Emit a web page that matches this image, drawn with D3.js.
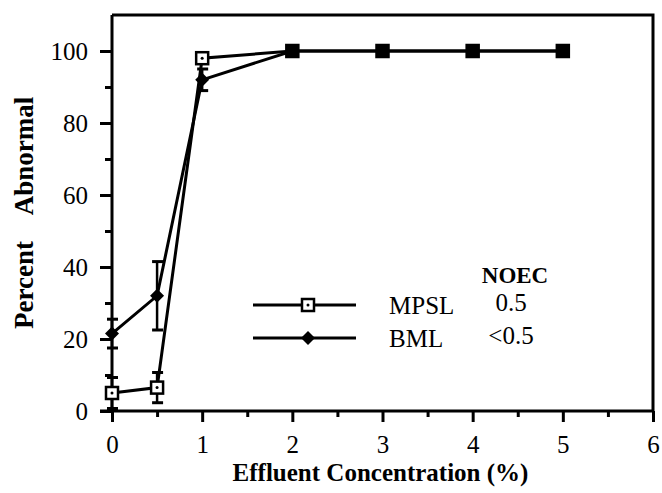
<!DOCTYPE html>
<html lang="en">
  <head>
    <meta charset="utf-8">
    <title>Percent abnormal vs effluent concentration</title>
    <script src="https://d3js.org/d3.v7.min.js"></script>
    <style>
      body { margin: 0; background: #fff; overflow: hidden; }
      svg { display: block; }
      text { font-family: "Liberation Serif", "Times New Roman", serif; fill: #000; }
    </style>
  </head>

  <body>

  <script>

// data

  var conc = [0, 0.5, 1, 2, 3, 4, 5];

  var mpslMean = [5, 6.5, 98, 100, 100, 100, 100];
  var mpslErr  = [4.3, 4.2, 0, 0, 0, 0, 0];

  var bmlMean = [21.5, 32, 92, 100, 100, 100, 100];
  var bmlErr  = [4, 9.5, 3, 0, 0, 0, 0];

  var legendNames = ["MPSL", "BML"];
  var noecValues = ["0.5", "<0.5"];

  var xTicks = [0, 1, 2, 3, 4, 5, 6];
  var yTicks = [0, 20, 40, 60, 80, 100];

// svg and scales

  var w = 662;
  var h = 493;
  var margin = {top: 15, right: 9, bottom: 82, left: 112};
  var innerWidth = w - margin.left - margin.right;
  var innerHeight = h - margin.top - margin.bottom;

  var svg = d3.select("body")
    .append("svg")
      .attr("width", w)
      .attr("height", h);

  var xScale = d3.scaleLinear()
      .domain([0, 6])
      .range([0, innerWidth]);

  var yScale = d3.scaleLinear()
      .domain([0, 110])
      .range([innerHeight, 0]);

  var g = svg.append("g")
      .attr("transform", `translate(${margin.left}, ${margin.top})`);

// frame (top and right sides)

  g.append("path")
      .attr("d", `M0,0 H${innerWidth} V${innerHeight}`)
      .attr("fill", "none")
      .attr("stroke", "black")
      .attr("stroke-width", 3);

// axes

  var xAxis = g.append("g")
      .attr("transform", `translate(0, ${innerHeight})`)
      .call(d3.axisBottom(xScale).tickValues(d3.range(0, 6.01, 0.5))
        .tickSize(11).tickFormat(""))
      .attr("font-family", null)
      .attr("font-size", null);

  xAxis.selectAll(".tick line")
      .attr("stroke-width", 3)
      .attr("y2", d => d % 1 === 0 ? 11 : 6);

  xAxis.selectAll(".tick")
      .filter(d => xTicks.indexOf(d) >= 0)
    .append("text")
      .attr("y", 42)
      .attr("text-anchor", "middle")
      .style("font-size", "25px")
      .text(d => d);

  var yAxis = g.append("g")
      .call(d3.axisLeft(yScale).tickValues(d3.range(0, 101, 10))
        .tickSize(12).tickFormat(""))
      .attr("font-family", null)
      .attr("font-size", null);

  yAxis.selectAll(".tick line")
      .attr("stroke-width", 3)
      .attr("x2", d => d % 20 === 0 ? -12 : -7);

  yAxis.selectAll(".tick")
      .filter(d => yTicks.indexOf(d) >= 0)
    .append("text")
      .attr("x", -24)
      .attr("dy", "0.34em")
      .attr("text-anchor", "end")
      .style("font-size", "25px")
      .text(d => d);

  g.selectAll(".domain")
      .attr("stroke-width", 3);

  // extend the axes over the frame corner
  yAxis.select(".domain").attr("d", `M0,${innerHeight + 2} V0`);
  xAxis.select(".domain").attr("d", `M-12,0 H${innerWidth}`);

// axis titles

  svg.append("text")
      .attr("x", margin.left + xScale(3) - 2)
      .attr("y", 481)
      .attr("text-anchor", "middle")
      .style("font-size", "25px")
      .style("font-weight", "bold")
      .text("Effluent Concentration (%)");

  svg.append("text")
      .attr("transform", "translate(33, 285) rotate(-90)")
      .attr("text-anchor", "middle")
      .style("font-size", "27px")
      .style("font-weight", "bold")
      .text("Percent");

  svg.append("text")
      .attr("transform", "translate(33, 156) rotate(-90)")
      .attr("text-anchor", "middle")
      .style("font-size", "27px")
      .style("font-weight", "bold")
      .text("Abnormal");

// series

  var series = [
    {name: "MPSL", mean: mpslMean, err: mpslErr, shape: "square"},
    {name: "BML", mean: bmlMean, err: bmlErr, shape: "diamond"}
  ];

  var line = d3.line()
      .x(d => xScale(d.x))
      .y(d => yScale(d.y));

  function points(s) {
    return conc.map((c, i) => ({x: c, y: s.mean[i], e: s.err[i], i: i}));
  }

  series.forEach(function (s) {
    var pts = points(s);

    g.append("path")
        .datum(pts)
        .attr("d", line)
        .attr("fill", "none")
        .attr("stroke", "black")
        .attr("stroke-width", 3);

    var eb = g.append("g").selectAll("g")
        .data(pts.filter(d => d.e > 0))
      .enter().append("g");

    eb.append("line")
        .attr("x1", d => xScale(d.x))
        .attr("x2", d => xScale(d.x))
        .attr("y1", d => yScale(d.y - d.e))
        .attr("y2", d => yScale(d.y + d.e))
        .attr("stroke", "black")
        .attr("stroke-width", 2.5);

    [-1, 1].forEach(function (sign) {
      eb.append("line")
          .attr("x1", d => xScale(d.x) - 5)
          .attr("x2", d => xScale(d.x) + 6)
          .attr("y1", d => yScale(d.y + sign * d.e))
          .attr("y2", d => yScale(d.y + sign * d.e))
          .attr("stroke", "black")
          .attr("stroke-width", 3);
    });
  });

  // markers: BML diamonds, then MPSL squares on top
  // (MPSL square is drawn filled where it sits on the BML point)

  g.append("g").selectAll("path")
      .data(points(series[1]))
    .enter().append("path")
      .attr("transform", d => `translate(${xScale(d.x)}, ${yScale(d.y)})`)
      .attr("d", "M0,-7 L7,0 L0,7 L-7,0 Z")
      .attr("fill", "black");

  var sq = g.append("g").selectAll("g")
      .data(points(series[0]))
    .enter().append("g")
      .attr("transform", d => `translate(${xScale(d.x)}, ${yScale(d.y)})`);

  sq.append("rect")
      .attr("x", -6)
      .attr("y", -6)
      .attr("width", 12)
      .attr("height", 12)
      .attr("fill", d => d.y === bmlMean[d.i] ? "black" : "white")
      .attr("stroke", "black")
      .attr("stroke-width", 2.5);

  sq.filter(d => d.y !== bmlMean[d.i])
    .append("circle")
      .attr("r", 1.5)
      .attr("fill", "black");

// legend

  var legend = svg.append("g")
      .attr("transform", "translate(253, 305)");

  legend.append("text")
      .attr("x", 262)
      .attr("y", -22)
      .attr("text-anchor", "middle")
      .style("font-size", "23px")
      .style("font-weight", "bold")
      .text("NOEC");

  var rows = legend.selectAll(".row")
      .data(legendNames)
    .enter().append("g")
      .attr("class", "row")
      .attr("transform", (d, i) => `translate(0, ${i * 33})`);

  rows.append("line")
      .attr("x1", 0)
      .attr("x2", 103)
      .attr("stroke", "black")
      .attr("stroke-width", 3);

  rows.append("text")
      .attr("x", 136)
      .attr("y", 9)
      .style("font-size", "25px")
      .text(d => d);

  rows.append("text")
      .attr("x", 258)
      .attr("y", 6)
      .attr("text-anchor", "middle")
      .style("font-size", "25px")
      .text((d, i) => noecValues[i]);

  rows.filter((d, i) => i === 0)
    .append("rect")
      .attr("x", 49)
      .attr("y", -6)
      .attr("width", 12)
      .attr("height", 12)
      .attr("fill", "white")
      .attr("stroke", "black")
      .attr("stroke-width", 2.5);

  rows.filter((d, i) => i === 0)
    .append("circle")
      .attr("cx", 55)
      .attr("r", 1.5)
      .attr("fill", "black");

  rows.filter((d, i) => i === 1)
    .append("path")
      .attr("d", "M55,-7 L62,0 L55,7 L48,0 Z")
      .attr("fill", "black");

    </script>

  </body>

</html>
